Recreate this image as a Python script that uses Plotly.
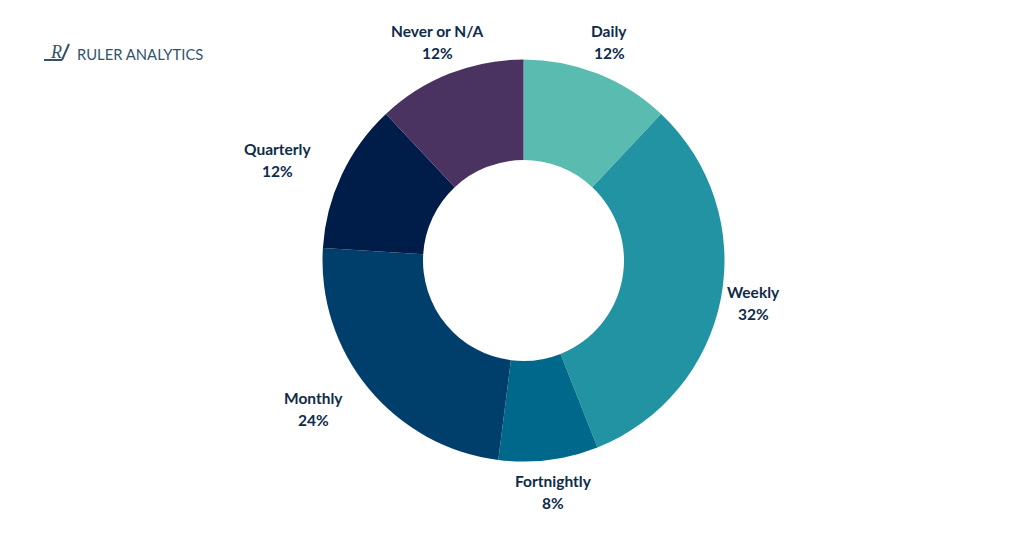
import plotly.graph_objects as go

W = 1024
H = 536

labels = ["Daily", "Weekly", "Fortnightly", "Monthly", "Quarterly", "Never or N/A"]
values = [12, 32, 8, 24, 12, 12]
colors = ["#5ABCB1", "#2193A3", "#00688B", "#003E6B", "#001D4A", "#4A3360"]

# label centres in pixels, name line then percent line 22px below
label_x = [609, 753, 553, 313, 277, 437]
label_y = [31, 292, 481, 398, 149, 31]

NAVY = "#0F2B4A"
LOGO = "#33536B"

fig = go.Figure()

fig.add_trace(go.Pie(
    labels=labels,
    values=values,
    marker=dict(colors=colors, line=dict(width=0)),
    hole=0.5,
    sort=False,
    direction="clockwise",
    rotation=0,
    textinfo="none",
    hoverinfo="label+percent",
    domain=dict(x=[322.5 / W, 724.5 / W], y=[1 - 461.5 / H, 1 - 59.5 / H]),
))

for name, val, x, y in zip(labels, values, label_x, label_y):
    for text, yy in ((name, y), (f"{val}%", y + 22)):
        fig.add_annotation(
            x=x / W, y=1 - yy / H, xref="paper", yref="paper",
            text=f"<b>{text}</b>", showarrow=False,
            xanchor="center", yanchor="middle",
            font=dict(family="Lato", size=15.5, color=NAVY),
        )

# logo
fig.add_annotation(
    x=75 / W, y=1 - 53.5 / H, xref="paper", yref="paper",
    text="RULER ANALYTICS", showarrow=False,
    xanchor="left", yanchor="middle",
    font=dict(family="Lato", size=14.8, color=LOGO),
)
fig.add_annotation(
    x=56 / W, y=1 - 52 / H, xref="paper", yref="paper",
    text="<i>R</i>", showarrow=False,
    xanchor="center", yanchor="middle",
    font=dict(family="Liberation Serif", size=18, color=LOGO),
)
fig.add_shape(type="line", xref="paper", yref="paper",
              x0=44 / W, x1=62 / W, y0=1 - 60 / H, y1=1 - 60 / H,
              line=dict(color=LOGO, width=2))
fig.add_shape(type="line", xref="paper", yref="paper",
              x0=62 / W, x1=69 / W, y0=1 - 60 / H, y1=1 - 44 / H,
              line=dict(color=LOGO, width=2))

fig.update_layout(
    width=W,
    height=H,
    margin=dict(l=0, r=0, t=0, b=0),
    paper_bgcolor="white",
    showlegend=False,
)

# page body has a default 8px margin, drop it so the figure sits at 0,0
fig.write_html(
    "out.html",
    config={"displayModeBar": False},
    post_script="document.body.style.margin = '0';",
)
